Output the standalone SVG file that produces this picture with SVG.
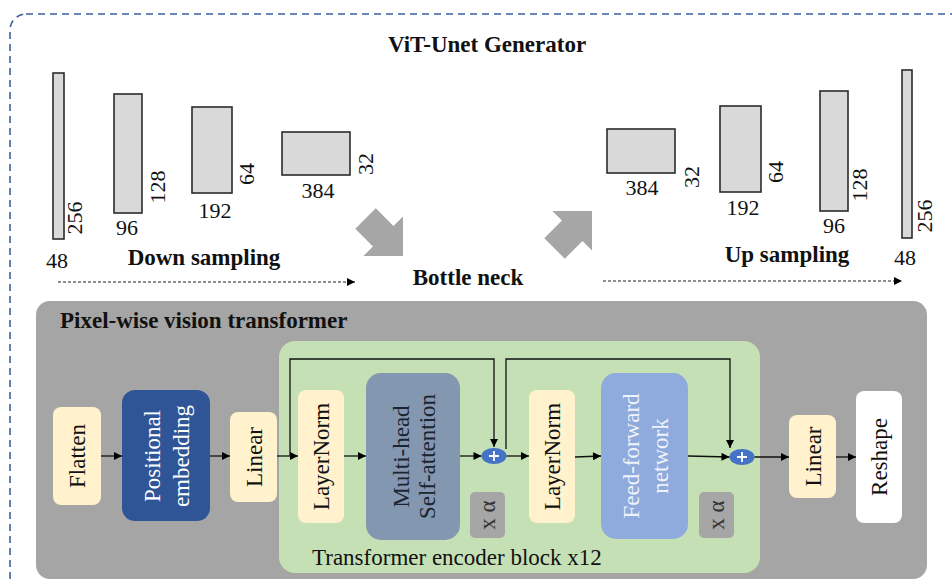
<svg xmlns="http://www.w3.org/2000/svg" width="952" height="582" viewBox="0 0 952 582" font-family="'Liberation Serif', 'DejaVu Serif', 'Times New Roman', serif">
<style>
text{font-family:"Liberation Serif","DejaVu Serif","Times New Roman",serif;fill:#111}
.b{font-weight:bold}
.n{font-size:22px}
.lab{font-size:23px}
.blk{fill:#D9D9D9;stroke:#2b2b2b;stroke-width:1.6}
.cream{fill:#FFF2CC}
.con{fill:none;stroke:#111;stroke-width:1.3}
.dot{fill:none;stroke:#222;stroke-width:1.2;stroke-dasharray:3 2}
.big{fill:#A6A6A6}
</style>
<defs>
<marker id="ah" viewBox="0 0 10 10" refX="10" refY="5" markerWidth="10" markerHeight="8" markerUnits="userSpaceOnUse" orient="auto"><path d="M0,0 L10,5 L0,10 z" fill="#000"/></marker>
</defs>
<rect width="952" height="582" fill="#fff"/>
<rect x="10" y="14" width="965" height="578" rx="16" fill="none" stroke="#3E5F9E" stroke-width="1.6" stroke-dasharray="7 5"/>

<text class="b" x="487" y="52" font-size="23" text-anchor="middle">ViT-Unet Generator</text>

<g id="down">
<rect class="blk" x="53" y="73" width="11" height="166"/>
<rect class="blk" x="114" y="94" width="28" height="119"/>
<rect class="blk" x="192" y="107" width="40" height="86"/>
<rect class="blk" x="282" y="132" width="68" height="43"/>
<text class="n" x="57" y="268" text-anchor="middle">48</text>
<text class="n" transform="translate(82,218) rotate(-90)" text-anchor="middle">256</text>
<text class="n" x="127" y="235" text-anchor="middle">96</text>
<text class="n" transform="translate(165,187) rotate(-90)" text-anchor="middle">128</text>
<text class="n" x="215" y="218" text-anchor="middle">192</text>
<text class="n" transform="translate(254,174) rotate(-90)" text-anchor="middle">64</text>
<text class="n" x="318" y="198" text-anchor="middle">384</text>
<text class="n" transform="translate(373,164) rotate(-90)" text-anchor="middle">32</text>
<text class="b" x="204" y="265" font-size="23" text-anchor="middle">Down sampling</text>
</g>

<g id="up">
<rect class="blk" x="607" y="129" width="68" height="44"/>
<rect class="blk" x="720" y="106" width="41" height="86"/>
<rect class="blk" x="820" y="91" width="28" height="120"/>
<rect class="blk" x="902" y="70" width="10" height="168"/>
<text class="n" x="642" y="195" text-anchor="middle">384</text>
<text class="n" transform="translate(699,177) rotate(-90)" text-anchor="middle">32</text>
<text class="n" x="743" y="215" text-anchor="middle">192</text>
<text class="n" transform="translate(783,172) rotate(-90)" text-anchor="middle">64</text>
<text class="n" x="834" y="233" text-anchor="middle">96</text>
<text class="n" transform="translate(867,185) rotate(-90)" text-anchor="middle">128</text>
<text class="n" transform="translate(932,216) rotate(-90)" text-anchor="middle">256</text>
<text class="n" x="905" y="265" text-anchor="middle">48</text>
<text class="b" x="787" y="262" font-size="23" text-anchor="middle">Up sampling</text>
</g>

<g id="bottleneck">
<polygon class="big" transform="translate(403,256) rotate(45)" points="0,0 -28,-28 -28,-14.5 -53,-14.5 -53,14.5 -28,14.5 -28,28"/>
<polygon class="big" transform="translate(592,211) rotate(-45)" points="0,0 -28,-28 -28,-14.5 -53,-14.5 -53,14.5 -28,14.5 -28,28"/>
<text class="b" x="468" y="285" font-size="23" text-anchor="middle">Bottle neck</text>
</g>

<g id="flow-arrows">
<path class="dot" d="M58,282 H355" marker-end="url(#ah)"/>
<path class="dot" d="M603,281 H902" marker-end="url(#ah)"/>
</g>

<g id="panel">
<rect x="36" y="301" width="891" height="278" rx="14" fill="#A5A5A5"/>
<text class="b" x="60" y="328" font-size="23">Pixel-wise vision transformer</text>
<rect x="279" y="341" width="481" height="232" rx="16" fill="#C5E0B4"/>
<text x="312" y="565" font-size="23">Transformer encoder block x12</text>
</g>

<g id="flatten">
<rect class="cream" x="53" y="407" width="48" height="98" rx="8"/>
<text class="lab" transform="translate(77,456) rotate(-90)" text-anchor="middle" y="8">Flatten</text>
</g>
<g id="posemb">
<rect x="122" y="390" width="88" height="131" rx="13" fill="#2F5597"/>
<text class="lab" transform="translate(166,456) rotate(-90)" text-anchor="middle" style="fill:#fff"><tspan x="0" y="-6">Positional</tspan><tspan x="0" y="23">embedding</tspan></text>
</g>
<g id="linear1">
<rect class="cream" x="230" y="412" width="47" height="90" rx="8"/>
<text class="lab" transform="translate(253.5,457) rotate(-90)" text-anchor="middle" y="8">Linear</text>
</g>
<g id="layernorm1">
<rect class="cream" x="298" y="390" width="46" height="133" rx="8"/>
<text class="lab" transform="translate(321,456.5) rotate(-90)" text-anchor="middle" y="8">LayerNorm</text>
</g>
<g id="mhsa">
<rect x="366" y="373" width="94" height="167" rx="15" fill="#8497B0"/>
<text class="lab" transform="translate(413,456.5) rotate(-90)" text-anchor="middle" style="fill:#1c2430"><tspan x="0" y="-4">Multi-head</tspan><tspan x="0" y="22">Self-attention</tspan></text>
</g>
<g id="alpha1">
<rect x="470" y="492" width="35" height="46" rx="5" fill="#A6A6A6"/>
<text font-size="23" transform="translate(487.5,515) rotate(-90)" text-anchor="middle" y="7" style="fill:#333">x α</text>
</g>
<g id="add1">
<ellipse cx="494" cy="456" rx="12.5" ry="8" fill="#4472C4"/>
<path d="M489,456 H499 M494,451 V461" stroke="#fff" stroke-width="1.8"/>
</g>
<g id="layernorm2">
<rect class="cream" x="529" y="390" width="46" height="133" rx="8"/>
<text class="lab" transform="translate(552,456.5) rotate(-90)" text-anchor="middle" y="8">LayerNorm</text>
</g>
<g id="ffn">
<rect x="601" y="373" width="87" height="166" rx="15" fill="#8FAADC"/>
<text class="lab" transform="translate(644.5,456) rotate(-90)" text-anchor="middle" style="fill:#EEF2FA"><tspan x="0" y="-6">Feed-forward</tspan><tspan x="0" y="23">network</tspan></text>
</g>
<g id="alpha2">
<rect x="699" y="492" width="35" height="46" rx="5" fill="#A6A6A6"/>
<text font-size="23" transform="translate(716.5,515) rotate(-90)" text-anchor="middle" y="7" style="fill:#333">x α</text>
</g>
<g id="add2">
<ellipse cx="742" cy="457" rx="12.5" ry="8" fill="#4472C4"/>
<path d="M737,457 H747 M742,452 V462" stroke="#fff" stroke-width="1.8"/>
</g>
<g id="linear2">
<rect class="cream" x="789" y="415" width="47" height="83" rx="8"/>
<text class="lab" transform="translate(812.5,456.5) rotate(-90)" text-anchor="middle" y="8">Linear</text>
</g>
<g id="reshape">
<rect x="856" y="391" width="46" height="132" rx="8" fill="#fff"/>
<text class="lab" transform="translate(879,457) rotate(-90)" text-anchor="middle" y="8">Reshape</text>
</g>

<g id="connectors">
<path class="con" d="M101,456 H122" marker-end="url(#ah)"/>
<path class="con" d="M210,456 H230" marker-end="url(#ah)"/>
<path class="con" d="M277,456 H298" marker-end="url(#ah)"/>
<path class="con" d="M344,456 H366" marker-end="url(#ah)"/>
<path class="con" d="M460,456 H481.5" marker-end="url(#ah)"/>
<path class="con" d="M506.5,456 H529" marker-end="url(#ah)"/>
<path class="con" d="M575,457 L601,456" marker-end="url(#ah)"/>
<path class="con" d="M688,456 L729.5,457" marker-end="url(#ah)"/>
<path class="con" d="M754.5,457 H789" marker-end="url(#ah)"/>
<path class="con" d="M836,457 H856" marker-end="url(#ah)"/>
<path class="con" d="M290,456 V359 H494 V447" marker-end="url(#ah)"/>
<path class="con" d="M506,449 V359 H730 V448" marker-end="url(#ah)"/>
</g>
</svg>
